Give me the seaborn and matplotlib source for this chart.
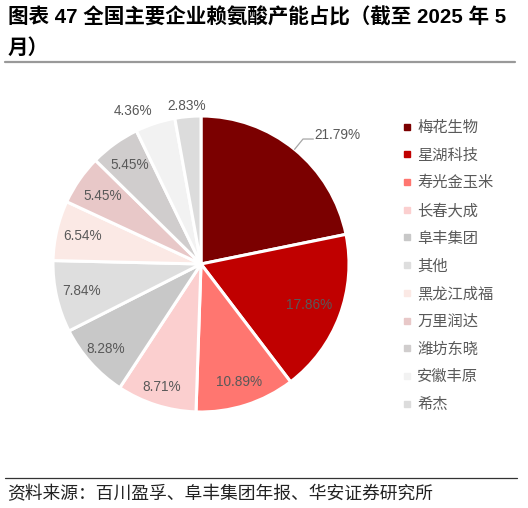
import matplotlib
matplotlib.use("Agg")
import matplotlib.pyplot as plt
from matplotlib.lines import Line2D
import seaborn as sns
import numpy as np

# Data: share of national lysine capacity (as of May 2025)
companies = ["梅花生物", "星湖科技", "寿光金玉米", "长春大成", "阜丰集团", "其他",
             "黑龙江成福", "万里润达", "潍坊东晓", "安徽丰原", "希杰"]
shares = [21.79, 17.86, 10.89, 8.71, 8.28, 7.84, 6.54, 5.45, 5.45, 4.36, 2.83]

colors = ["#7B0000", "#C00000", "#FF7670", "#FBCFCF", "#C8C8C8", "#DEDEDE",
          "#FBE9E5", "#E8C8C8", "#D0CDCD", "#F2F2F2", "#DCDCDC"]
# label placement: radial distance and small angular nudge (deg)
label_dist = [1.0, 0.78, 0.84, 0.87, 0.86, 0.83, 0.82, 0.81, 0.82, 1.13, 1.07]
label_nudge = [0, 0, 0, 0, 0, 0, 0, 0, 0, 6, 0]

sns.set_theme(style="white")
plt.rcParams["font.family"] = ["Liberation Sans", "Noto Sans CJK SC", "DejaVu Sans"]

W, H = 528, 508
fig = plt.figure(figsize=(W / 100, H / 100), dpi=100)
fig.patch.set_facecolor("white")

# pie axes
cx, cy, r = 201, 264, 148
ax = fig.add_axes([(cx - r) / W, (H - cy - r) / H, 2 * r / W, 2 * r / H])
wedges, _ = ax.pie(shares, colors=colors, startangle=90, counterclock=False,
                   radius=1, wedgeprops=dict(edgecolor="white", linewidth=2.2))
ax.set_xlim(-1, 1)
ax.set_ylim(-1, 1)
ax.set_aspect("equal")
ax.axis("off")

txt_color = "#595959"
for i, (w, v, d, n) in enumerate(zip(wedges, shares, label_dist, label_nudge)):
    ang = np.deg2rad((w.theta1 + w.theta2) / 2 + n)
    ca, sa = np.cos(ang), np.sin(ang)
    lab = f"{v:.2f}%"
    if i == 0:
        # leader line for the biggest slice
        x1, y1 = ca * 1.0, sa * 1.0
        x2, y2 = ca * 1.09, sa * 1.09
        ax.plot([x1, x2, x2 + 0.07], [y1, y2, y2], color="#A6A6A6", lw=0.9,
                clip_on=False)
        ax.text(x2 + 0.08, y2 + 0.03, lab, ha="left", va="center",
                fontsize=9.8, color=txt_color)
    else:
        ax.text(ca * d, sa * d, lab, ha="center", va="center",
                fontsize=9.8, color=txt_color)

# legend
handles = [Line2D([], [], marker="s", ls="", color=c, markersize=4.2) for c in colors]
leg = ax.legend(handles, companies, loc="upper left",
                bbox_to_anchor=(402 / W, 1 - 119 / H), bbox_transform=fig.transFigure,
                frameon=False, handlelength=0.6, handletextpad=0.4,
                labelspacing=0.70, borderaxespad=0, borderpad=0,
                labelcolor=txt_color, prop={"family": ["Noto Sans CJK SC"], "size": 11})

# title
fig.text(8 / W, 1 - 17 / H, "图表 47 全国主要企业赖氨酸产能占比（截至 2025 年 5",
         ha="left", va="center", fontsize=14.8, fontweight="bold", color="#000000")
fig.text(8 / W, 1 - 48 / H, "月）", ha="left", va="center", fontsize=14.8,
         fontweight="bold", color="#000000")
fig.add_artist(Line2D([5 / W, 515 / W], [1 - 62 / H] * 2, transform=fig.transFigure,
                      color="#999999", lw=1.6))

# source
fig.add_artist(Line2D([5 / W, 517 / W], [1 - 478 / H] * 2, transform=fig.transFigure,
                      color="#333333", lw=0.9))
fig.text(7 / W, 1 - 494 / H, "资料来源：百川盈孚、阜丰集团年报、华安证券研究所",
         ha="left", va="center", fontsize=12.8, color="#222222",
         family=["Noto Sans CJK SC"])

fig.savefig("out.png", dpi=100)
